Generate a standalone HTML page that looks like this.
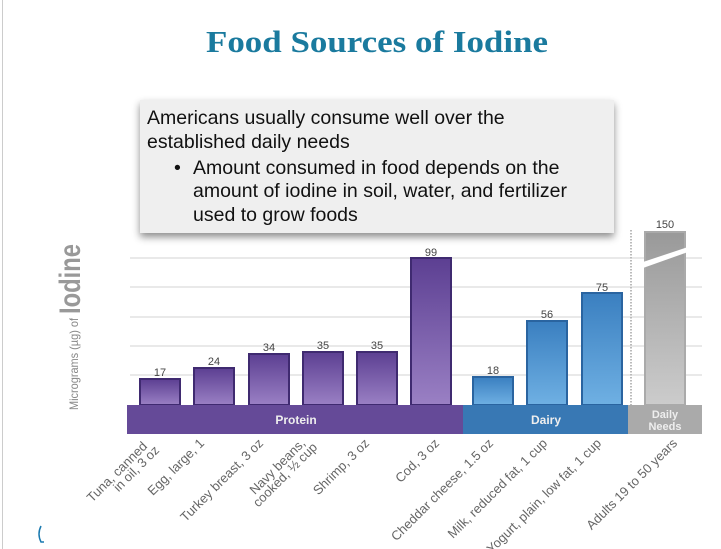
<!DOCTYPE html>
<html><head><style>
body{margin:0;width:721px;height:549px;background:#fff;overflow:hidden;position:relative;font-family:"Liberation Sans",sans-serif}
</style></head><body>
<div style="position:absolute;left:2px;top:0;width:1px;height:549px;background:#ccc"></div>
<svg width="721" height="549" style="position:absolute;left:0;top:0" font-family="Liberation Sans, sans-serif">
<defs>
<linearGradient id="pu" x1="0" y1="0" x2="0" y2="1"><stop offset="0" stop-color="#5c3f92"/><stop offset="1" stop-color="#9a80c4"/></linearGradient>
<linearGradient id="bl" x1="0" y1="0" x2="0" y2="1"><stop offset="0" stop-color="#3a7fc0"/><stop offset="1" stop-color="#6fb0e3"/></linearGradient>
<linearGradient id="gr" x1="0" y1="0" x2="0" y2="1"><stop offset="0" stop-color="#999"/><stop offset="1" stop-color="#ccc"/></linearGradient>
<filter id="sh" x="-5%" y="-5%" width="110%" height="120%"><feDropShadow dx="0" dy="4" stdDeviation="4" flood-color="#000" flood-opacity="0.45"/></filter>
</defs>
<text x="206" y="52" textLength="342" lengthAdjust="spacingAndGlyphs" font-family="Liberation Serif, serif" font-weight="bold" font-size="31" fill="#1a7a9e">Food Sources of Iodine</text>
<g stroke="#e2e2e2" stroke-width="1.5">
<line x1="130" y1="258" x2="702" y2="258"/><line x1="130" y1="287" x2="702" y2="287"/><line x1="130" y1="317" x2="702" y2="317"/><line x1="130" y1="346" x2="702" y2="346"/><line x1="130" y1="375" x2="702" y2="375"/>
</g>
<line x1="631" y1="230" x2="631" y2="405" stroke="#bbb" stroke-width="2" stroke-dasharray="1.5,1.5"/>
<g stroke-width="2">
<rect x="140" y="379" width="40" height="26" fill="url(#pu)" stroke="#3f2a70"/>
<rect x="194" y="368" width="40" height="37" fill="url(#pu)" stroke="#3f2a70"/>
<rect x="249" y="354" width="40" height="51" fill="url(#pu)" stroke="#3f2a70"/>
<rect x="303" y="352" width="40" height="53" fill="url(#pu)" stroke="#3f2a70"/>
<rect x="357" y="352" width="40" height="53" fill="url(#pu)" stroke="#3f2a70"/>
<rect x="411" y="258" width="40" height="147" fill="url(#pu)" stroke="#3f2a70"/>
<rect x="473" y="377" width="40" height="28" fill="url(#bl)" stroke="#2a64a0"/>
<rect x="527" y="321" width="40" height="84" fill="url(#bl)" stroke="#2a64a0"/>
<rect x="582" y="293" width="40" height="112" fill="url(#bl)" stroke="#2a64a0"/>
<rect x="645" y="232" width="40" height="173" fill="url(#gr)" stroke="#aaa"/>
</g>
<polygon points="643,262 688,247 688,252 643,268" fill="#fff"/>
<g font-size="11" fill="#444" text-anchor="middle">
<text x="160" y="376">17</text><text x="214" y="365">24</text><text x="269" y="351">34</text><text x="323" y="349">35</text><text x="377" y="349">35</text><text x="431" y="256">99</text><text x="493" y="374">18</text><text x="547" y="318">56</text><text x="602" y="291">75</text><text x="665" y="228">150</text>
</g>
<rect x="127" y="405" width="336" height="29" fill="#654a98"/>
<rect x="463" y="405" width="165" height="29" fill="#3878b4"/>
<rect x="628" y="405" width="74" height="29" fill="#aaa"/>
<g font-size="12" font-weight="bold" fill="#eee" text-anchor="middle">
<text x="296" y="424">Protein</text><text x="546" y="424">Dairy</text>
<text x="665" y="418" font-size="11">Daily</text><text x="665" y="430" font-size="11">Needs</text>
</g>
<g font-size="13" fill="#666" text-anchor="end">
<text transform="translate(148,447) rotate(-45)">Tuna, canned</text>
<text transform="translate(160,451) rotate(-45)">in oil, 3 oz</text>
<text transform="translate(205,444) rotate(-45)">Egg, large, 1</text>
<text transform="translate(264,444) rotate(-45)">Turkey breast, 3 oz</text>
<text transform="translate(306,444) rotate(-45)">Navy beans,</text>
<text transform="translate(318,448) rotate(-45)">cooked, ½ cup</text>
<text transform="translate(370,444) rotate(-45)">Shrimp, 3 oz</text>
<text transform="translate(440,444) rotate(-45)">Cod, 3 oz</text>
<text transform="translate(494,444) rotate(-45)">Cheddar cheese, 1.5 oz</text>
<text transform="translate(548,444) rotate(-45)">Milk, reduced fat, 1 cup</text>
<text transform="translate(602,444) rotate(-45)">Yogurt, plain, low fat, 1 cup</text>
<text transform="translate(678,444) rotate(-45)">Adults 19 to 50 years</text>
</g>
<g transform="translate(78,410) rotate(-90)" fill="#888">
<text x="0" y="0" font-size="12" textLength="92" lengthAdjust="spacingAndGlyphs">Micrograms (µg) of</text>
<text x="96" y="2" font-size="30" font-weight="bold" fill="#999" textLength="70" lengthAdjust="spacingAndGlyphs">Iodine</text>
</g>
<path d="M41 526 q-4 8 0 16 l3 0" fill="none" stroke="#1a7ab0" stroke-width="1.5"/>
<rect x="140" y="100" width="474" height="133" fill="#efefef" filter="url(#sh)"/>
<g font-size="19.5" fill="#111">
<text x="147" y="124">Americans usually consume well over the</text>
<text x="147" y="148">established daily needs</text>
<text x="174" y="174">•</text>
<text x="193" y="174">Amount consumed in food depends on the</text>
<text x="193" y="197">amount of iodine in soil, water, and fertilizer</text>
<text x="193" y="221">used to grow foods</text>
</g>
</svg>
</body></html>
